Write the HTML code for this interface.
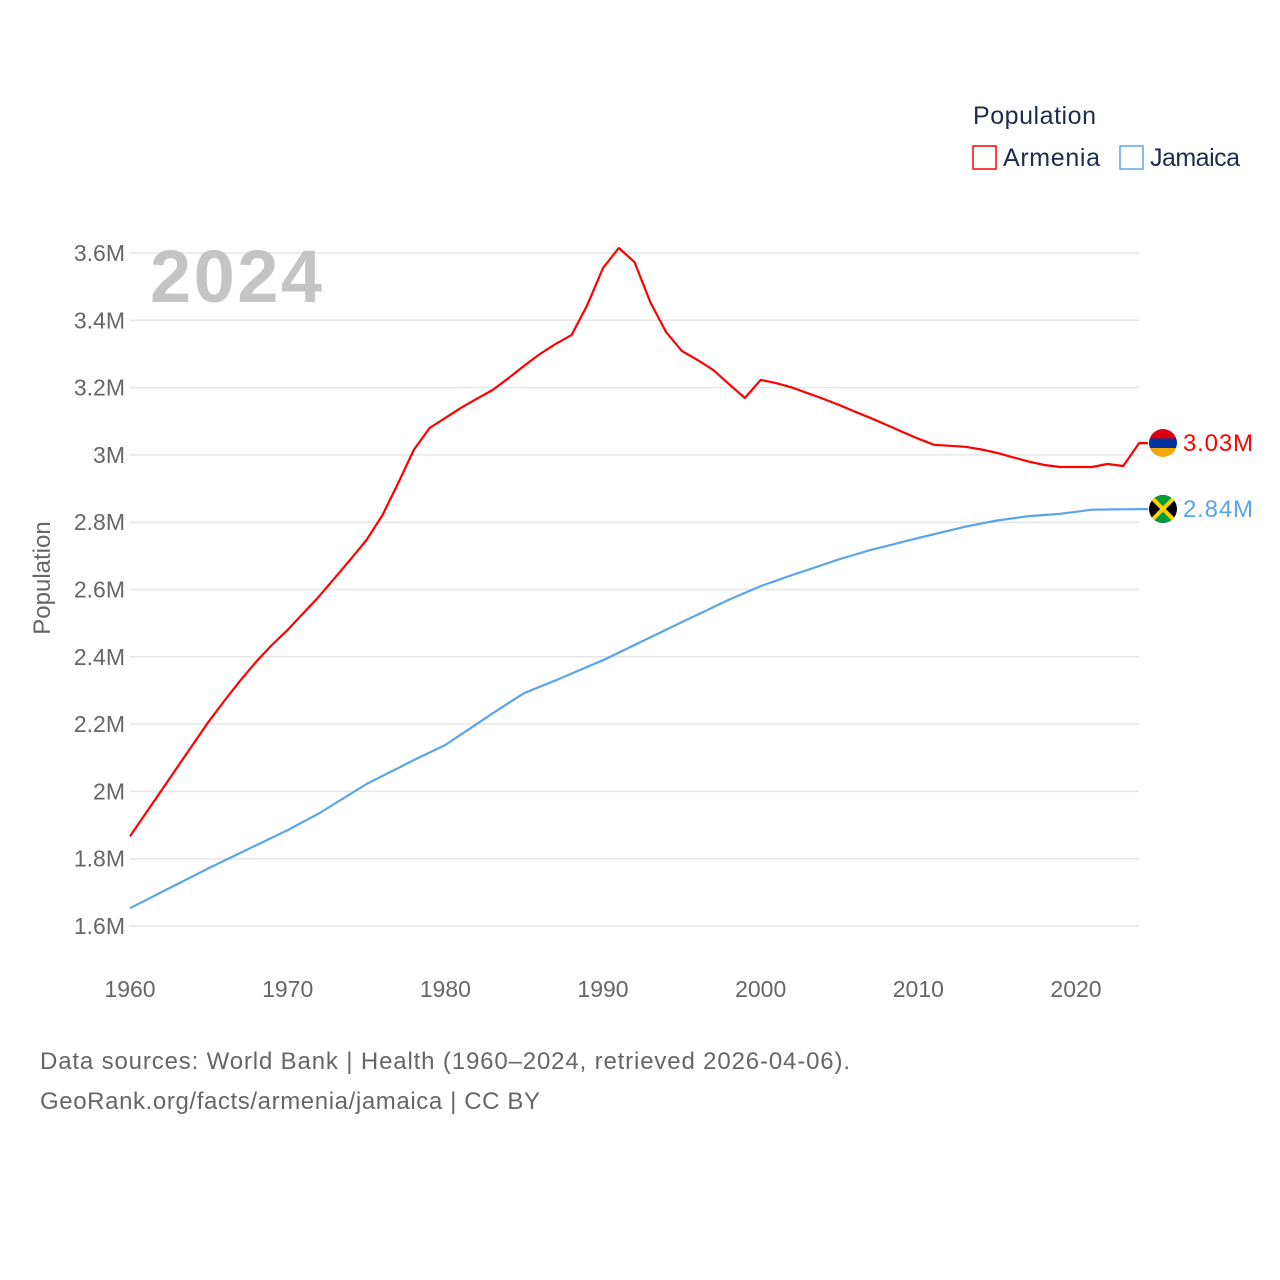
<!DOCTYPE html>
<html><head><meta charset="utf-8"><style>
html,body{margin:0;padding:0;background:#fff;}
svg{display:block;font-family:"Liberation Sans",sans-serif;}
</style></head><body>
<svg id="chart" width="1280" height="1280" viewBox="0 0 1280 1280">
<g id="grid"></g>
<g id="yticks"></g>
<g id="xticks"></g>
<text x="150" y="302" font-size="74" font-weight="bold" fill="#c4c4c4" textLength="172">2024</text>
<text transform="translate(50,578) rotate(-90)" text-anchor="middle" font-size="24" fill="#666">Population</text>
<g id="series"></g>
<g>
<text x="973" y="124" font-size="25" fill="#1d2b4f" textLength="123">Population</text>
<g><rect x="973" y="146" width="23" height="23" fill="none" stroke="#ff0000" stroke-width="1.5"/><text x="1003" y="166" font-size="25" fill="#1d2b4f" textLength="97">Armenia</text></g>
<g><rect x="1120" y="146" width="23" height="23" fill="none" stroke="#5aa5ea" stroke-width="1.5"/><text x="1150" y="166" font-size="25" fill="#1d2b4f" textLength="90">Jamaica</text></g>
</g>
<g>
<clipPath id="ca"><circle cx="1163" cy="443" r="14"/></clipPath>
<g clip-path="url(#ca)"><rect x="1149" y="429" width="28" height="10" fill="#d90012"/><rect x="1149" y="438.5" width="28" height="10" fill="#0033a0"/><rect x="1149" y="448" width="28" height="10" fill="#f2a800"/></g>
</g>
<g>
<clipPath id="cj"><circle cx="1163" cy="509" r="14"/></clipPath>
<g clip-path="url(#cj)"><rect x="1149" y="495" width="28" height="28" fill="#000"/><polygon points="1149,495 1177,495 1163,509" fill="#009b3a"/><polygon points="1149,523 1177,523 1163,509" fill="#009b3a"/><line x1="1149" y1="495" x2="1177" y2="523" stroke="#fed100" stroke-width="4"/><line x1="1177" y1="495" x2="1149" y2="523" stroke="#fed100" stroke-width="4"/></g>
</g>
<text x="1183" y="451" font-size="24" fill="#ff0000" textLength="70">3.03M</text>
<text x="1183" y="517" font-size="24" fill="#5aa5ea" textLength="70">2.84M</text>
<text x="40" y="1069" font-size="24" fill="#666" textLength="810">Data sources: World Bank | Health (1960–2024, retrieved 2026-04-06).</text>
<text x="40" y="1109" font-size="24" fill="#666" textLength="500">GeoRank.org/facts/armenia/jamaica | CC BY</text>
</svg>
<script>
const years = [];
for (let y = 1960; y <= 2024; y++) years.push(y);
const armenia = [1.867,1.935,2.003,2.072,2.140,2.208,2.27,2.33,2.385,2.435,2.48,2.53,2.58,2.635,2.69,2.747,2.82,2.915,3.015,3.08,3.11,3.14,3.167,3.193,3.228,3.265,3.3,3.33,3.356,3.445,3.555,3.615,3.573,3.454,3.365,3.309,3.282,3.252,3.21,3.169,3.223,3.213,3.2,3.183,3.166,3.148,3.128,3.109,3.089,3.068,3.048,3.03,3.027,3.024,3.016,3.006,2.993,2.98,2.97,2.964,2.964,2.964,2.973,2.967,3.035];
const jamaicaKeyYears = [1960,1965,1970,1972,1975,1978,1980,1983,1985,1987,1990,1995,1998,2000,2002,2005,2007,2010,2013,2015,2017,2019,2021,2024];
const jamaicaKeyVals = [1.653,1.772,1.885,1.935,2.022,2.093,2.138,2.232,2.292,2.33,2.39,2.503,2.57,2.61,2.643,2.69,2.718,2.753,2.787,2.805,2.818,2.825,2.837,2.839];
const yTicks = [1.6,1.8,2.0,2.2,2.4,2.6,2.8,3.0,3.2,3.4,3.6];
const yTickLabels = ["1.6M","1.8M","2M","2.2M","2.4M","2.6M","2.8M","3M","3.2M","3.4M","3.6M"];
const xTicks = [1960,1970,1980,1990,2000,2010,2020];

const NS = "http://www.w3.org/2000/svg";
const xs = y => 130 + (y - 1960) * (946 / 60);
const ys = v => 926 - (v - 1.6) * (673 / 2.0);
function mk(tag, attrs, parent) { const e = document.createElementNS(NS, tag); for (const k in attrs) e.setAttribute(k, attrs[k]); parent.appendChild(e); return e; }

const grid = document.getElementById('grid'), yt = document.getElementById('yticks'), xt = document.getElementById('xticks');
yTicks.forEach((v, i) => {
  const l = mk('line', {x1: 130, x2: 1139, y1: ys(v), y2: ys(v), stroke: '#e6e6e6', 'stroke-width': 1.5}, grid);
  
  
  const t = mk('text', {x: 125, y: ys(v) + 8, 'text-anchor': 'end', 'font-size': 23, fill: '#666'}, yt);
  t.textContent = yTickLabels[i];
  
  
});
xTicks.forEach(y => {
  const t = mk('text', {x: xs(y), y: 997, 'text-anchor': 'middle', 'font-size': 23, fill: '#666'}, xt);
  t.textContent = y;
  
  
});

const jamaica = years.map(y => {
  for (let i = 0; i < jamaicaKeyYears.length - 1; i++) {
    const a = jamaicaKeyYears[i], b = jamaicaKeyYears[i + 1];
    if (y >= a && y <= b) return jamaicaKeyVals[i] + (jamaicaKeyVals[i + 1] - jamaicaKeyVals[i]) * (y - a) / (b - a);
  }
  return jamaicaKeyVals[jamaicaKeyVals.length - 1];
});

const series = document.getElementById('series');
function draw(vals, color, name) {
  let d = vals.map((v, i) => (i ? 'L' : 'M') + xs(years[i]).toFixed(1) + ',' + ys(v).toFixed(1)).join(' ');
  d += ' L1148,' + ys(vals[vals.length - 1]).toFixed(1);
  const p = mk('path', {d: d, fill: 'none', stroke: color, 'stroke-width': 2.2, 'stroke-linejoin': 'round'}, series);
  
  
}
draw(jamaica, '#5aa5ea', 'jamaica-line');
draw(armenia, '#ff0000', 'armenia-line');
</script>
</body></html>
